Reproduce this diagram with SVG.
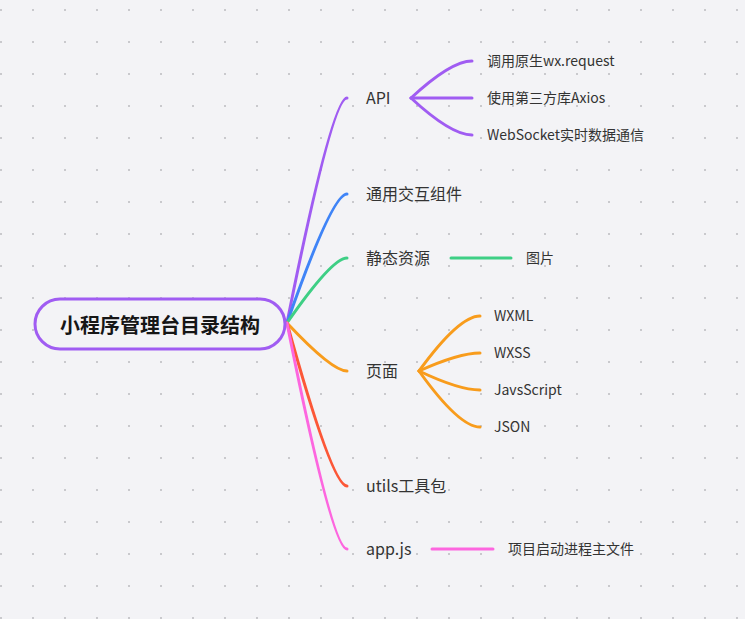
<svg xmlns="http://www.w3.org/2000/svg" width="745" height="619" viewBox="0 0 745 619">
  <defs>
    <pattern id="dots" x="0" y="9" width="32" height="32" patternUnits="userSpaceOnUse">
      <rect x="0" y="0" width="2" height="2" fill="#c9c9cd"/>
    </pattern>
    <style>
      .bg { fill: #f3f3f6; }
      .br { fill: none; stroke-width: 3; stroke-linecap: round; }
      .purple { stroke: #a05cf2; }
      .blue { stroke: #3f84f7; }
      .green { stroke: #3ecf85; }
      .orange { stroke: #f89c1c; }
      .red { stroke: #fc5737; }
      .pink { stroke: #fd66df; }
      text { font-family: "Noto Sans CJK SC", "Noto Sans", sans-serif; fill: #333333; }
      .root { font-size: 20px; font-weight: bold; fill: #161616; }
      .l1 { font-size: 16px; }
      .l2 { font-size: 14px; }
    </style>
  </defs>
  <rect class="bg" x="0" y="0" width="745" height="619"/>
  <rect x="0" y="0" width="745" height="619" fill="url(#dots)"/>

  <g id="connectors">
    <path class="br purple" d="M287,323 Q332,98 347,98"/>
    <path class="br blue" d="M287,323 Q332,194 347,194"/>
    <path class="br green" d="M287,323 Q332,258 347,258"/>
    <path class="br orange" d="M287,323 Q332,371 347,371"/>
    <path class="br red" d="M287,323 Q332,486 347,486"/>
    <path class="br pink" d="M287,323 Q332,549 347,549"/>

    <path class="br purple" d="M411,98 Q451,61 472,61"/>
    <path class="br purple" d="M411,98 L472,98"/>
    <path class="br purple" d="M411,98 Q451,135 472,135"/>

    <path class="br green" d="M451,258 L511,258"/>

    <path class="br orange" d="M419,371 Q459,316 480,316"/>
    <path class="br orange" d="M419,371 Q459,353 480,353"/>
    <path class="br orange" d="M419,371 Q459,390 480,390"/>
    <path class="br orange" d="M419,371 Q459,427 480,427"/>

    <path class="br pink" d="M432,549 L493,549"/>
  </g>

  <g id="root">
    <rect x="35" y="299" width="250" height="50" rx="25" ry="25" fill="#f3f3f6" stroke="#a05cf2" stroke-width="3"/>
    <text class="root" x="160" y="333" text-anchor="middle">小程序管理台目录结构</text>
  </g>

  <g id="node-api"><text class="l1" x="366" y="104">API</text></g>
  <g id="node-api-1"><text class="l2" x="487" y="66">调用原生wx.request</text></g>
  <g id="node-api-2"><text class="l2" x="487" y="103">使用第三方库Axios</text></g>
  <g id="node-api-3"><text class="l2" x="487" y="140">WebSocket实时数据通信</text></g>

  <g id="node-components"><text class="l1" x="366" y="200">通用交互组件</text></g>

  <g id="node-static"><text class="l1" x="366" y="264">静态资源</text></g>
  <g id="node-static-1"><text class="l2" x="526" y="263">图片</text></g>

  <g id="node-pages"><text class="l1" x="366" y="377">页面</text></g>
  <g id="node-pages-1"><text class="l2" x="494" y="321">WXML</text></g>
  <g id="node-pages-2"><text class="l2" x="494" y="358">WXSS</text></g>
  <g id="node-pages-3"><text class="l2" x="494" y="395">JavsScript</text></g>
  <g id="node-pages-4"><text class="l2" x="494" y="432">JSON</text></g>

  <g id="node-utils"><text class="l1" x="366" y="492">utils工具包</text></g>

  <g id="node-app"><text class="l1" x="366" y="555">app.js</text></g>
  <g id="node-app-1"><text class="l2" x="508" y="554">项目启动进程主文件</text></g>
</svg>
